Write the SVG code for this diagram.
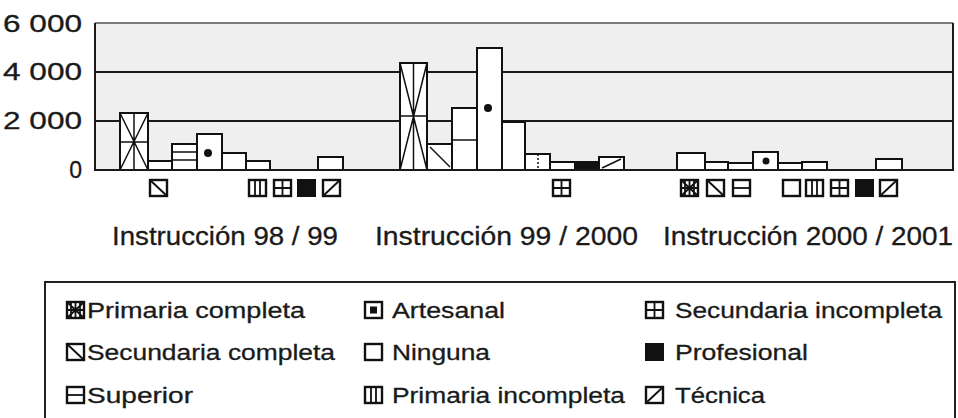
<svg xmlns="http://www.w3.org/2000/svg" width="958" height="418" viewBox="0 0 958 418">
<style>
.bg{fill:#efefef;stroke:none}
.grid{stroke:#1a1a1a;stroke-width:2;fill:none}
.topb{stroke:#7a7a7a;stroke-width:2;fill:none}
.bar{fill:#fff;stroke:#111;stroke-width:2}
.blk{fill:#111;stroke:#111;stroke-width:2}
.pat{stroke:#111;stroke-width:1.5;fill:none}
.ic{fill:#fff;stroke:#111;stroke-width:2.4}
.ip{stroke:#111;stroke-width:1.8;fill:none}
.ylab{font-family:"Liberation Sans",Arial,sans-serif;font-size:23px;fill:#1a1a1a;stroke:#1a1a1a;stroke-width:0.3}
.xlab{font-family:"Liberation Sans",Arial,sans-serif;font-size:26px;fill:#1a1a1a;stroke:#1a1a1a;stroke-width:0.3}
.leg{font-family:"Liberation Sans",Arial,sans-serif;font-size:22px;fill:#1a1a1a;stroke:#1a1a1a;stroke-width:0.3}
</style>
<defs>
<g id="ic-pc"><rect class="ic" x="0" y="0" width="17" height="16"/><path class="ip" d="M0 0L17 16M17 0L0 16M8.5 0V16M0 8H17M4 0V16M13 0V16"/></g>
<g id="ic-sc"><rect class="ic" x="0" y="0" width="17" height="16"/><path class="ip" d="M0 0L17 16"/></g>
<g id="ic-sup"><rect class="ic" x="0" y="0" width="17" height="16"/><path class="ip" d="M0 8H17"/></g>
<g id="ic-art"><rect class="ic" x="0" y="0" width="17" height="16"/><rect x="5" y="4.5" width="7" height="7" fill="#111"/></g>
<g id="ic-nin"><rect class="ic" x="0" y="0" width="17" height="16"/></g>
<g id="ic-pi"><rect class="ic" x="0" y="0" width="17" height="16"/><path class="ip" d="M6 0V16M11 0V16"/></g>
<g id="ic-si"><rect class="ic" x="0" y="0" width="17" height="16"/><path class="ip" d="M8.5 0V16M0 8H17"/></g>
<g id="ic-prof"><rect class="blk" x="0" y="0" width="17" height="16"/></g>
<g id="ic-tec"><rect class="ic" x="0" y="0" width="17" height="16"/><path class="ip" d="M0 16L17 0"/></g>
</defs>
<rect width="958" height="418" fill="#fff"/>

<g id="plot">
<rect class="bg" x="95" y="23" width="858" height="147"/>
<line class="topb" x1="95" y1="23" x2="953" y2="23"/>
<line class="grid" x1="95" y1="72" x2="953" y2="72"/>
<line class="grid" x1="95" y1="121" x2="953" y2="121"/>
<line class="grid" x1="95" y1="23" x2="95" y2="171"/>
<line class="grid" x1="953" y1="23" x2="953" y2="171"/>
</g>

<g id="y-axis">
<text class="ylab" x="82" y="32" text-anchor="end" textLength="79" lengthAdjust="spacingAndGlyphs">6 000</text>
<text class="ylab" x="82" y="80" text-anchor="end" textLength="79" lengthAdjust="spacingAndGlyphs">4 000</text>
<text class="ylab" x="82" y="129" text-anchor="end" textLength="79" lengthAdjust="spacingAndGlyphs">2 000</text>
<text class="ylab" x="82" y="178" text-anchor="end">0</text>
</g>

<g id="group-98-99">
<rect class="bar" x="120" y="113" width="28" height="57"/>
<path class="pat" d="M120 113L148 170M148 113L120 170M134 113V170M120 142H148"/>
<rect class="bar" x="148" y="161" width="24" height="9"/>
<rect class="bar" x="172" y="144" width="25" height="26"/>
<path class="pat" d="M172 152H197M172 160H197"/>
<rect class="bar" x="197" y="134" width="25" height="36"/>
<circle cx="208" cy="153" r="4" fill="#111"/>
<rect class="bar" x="222" y="153" width="24" height="17"/>
<rect class="bar" x="246" y="161" width="24" height="9"/>
<rect class="bar" x="318" y="157" width="25" height="13"/>
<use href="#ic-sc" x="150" y="180"/>
<use href="#ic-pi" x="249" y="180"/>
<use href="#ic-si" x="274" y="180"/>
<use href="#ic-prof" x="298" y="180"/>
<use href="#ic-tec" x="323" y="180"/>
</g>

<g id="group-99-2000">
<rect class="bar" x="400" y="63" width="27" height="107"/>
<path class="pat" d="M400 63L427 170M427 63L400 170M413.5 63V170M400 116H427"/>
<rect class="bar" x="427" y="144" width="25" height="26"/>
<path class="pat" d="M430 147L450 167"/>
<rect class="bar" x="452" y="108" width="25" height="62"/>
<path class="pat" d="M452 140H477"/>
<rect class="bar" x="477" y="48" width="25" height="122"/>
<circle cx="488" cy="108" r="4" fill="#111"/>
<rect class="bar" x="502" y="122" width="23" height="48"/>
<rect class="bar" x="525" y="154" width="25" height="16"/>
<path class="pat" d="M538 154V170" stroke-dasharray="2 2"/>
<rect class="bar" x="550" y="162" width="25" height="8"/>
<rect class="blk" x="575" y="162" width="24" height="8"/>
<rect class="bar" x="599" y="157" width="25" height="13"/>
<path class="pat" d="M602 168L621 159"/>
<use href="#ic-si" x="553" y="180"/>
</g>

<g id="group-2000-2001">
<rect class="bar" x="677" y="153" width="28" height="17"/>
<rect class="bar" x="705" y="162" width="23" height="8"/>
<rect class="bar" x="728" y="163" width="25" height="7"/>
<rect class="bar" x="753" y="152" width="25" height="18"/>
<circle cx="766" cy="161" r="3.5" fill="#111"/>
<rect class="bar" x="778" y="163" width="24" height="7"/>
<rect class="bar" x="802" y="162" width="25" height="8"/>
<rect class="bar" x="876" y="159" width="26" height="11"/>
<use href="#ic-pc" x="681" y="180"/>
<use href="#ic-sc" x="707" y="180"/>
<use href="#ic-sup" x="733" y="180"/>
<use href="#ic-nin" x="783" y="180"/>
<use href="#ic-pi" x="806" y="180"/>
<use href="#ic-si" x="831" y="180"/>
<use href="#ic-prof" x="856" y="180"/>
<use href="#ic-tec" x="880" y="180"/>
</g>

<line id="baseline" class="grid" x1="95" y1="170" x2="953" y2="170"/>

<g id="x-axis">
<text class="xlab" x="112" y="245" textLength="226" lengthAdjust="spacingAndGlyphs">Instrucción 98 / 99</text>
<text class="xlab" x="375" y="245" textLength="263" lengthAdjust="spacingAndGlyphs">Instrucción 99 / 2000</text>
<text class="xlab" x="663" y="245" textLength="290" lengthAdjust="spacingAndGlyphs">Instrucción 2000 / 2001</text>
</g>

<g id="legend">
<rect x="45" y="282" width="910" height="140" fill="#fff" stroke="#222" stroke-width="2"/>
<use href="#ic-pc" x="67" y="302"/>
<text class="leg" x="87" y="318" textLength="218" lengthAdjust="spacingAndGlyphs">Primaria completa</text>
<use href="#ic-sc" x="67" y="344"/>
<text class="leg" x="87" y="360" textLength="248" lengthAdjust="spacingAndGlyphs">Secundaria completa</text>
<use href="#ic-sup" x="67" y="387"/>
<text class="leg" x="87" y="403" textLength="106" lengthAdjust="spacingAndGlyphs">Superior</text>
<use href="#ic-art" x="365" y="302"/>
<text class="leg" x="392" y="318" textLength="113" lengthAdjust="spacingAndGlyphs">Artesanal</text>
<use href="#ic-nin" x="365" y="344"/>
<text class="leg" x="392" y="360" textLength="98" lengthAdjust="spacingAndGlyphs">Ninguna</text>
<use href="#ic-pi" x="365" y="387"/>
<text class="leg" x="392" y="403" textLength="233" lengthAdjust="spacingAndGlyphs">Primaria incompleta</text>
<use href="#ic-si" x="646" y="302"/>
<text class="leg" x="675" y="318" textLength="267" lengthAdjust="spacingAndGlyphs">Secundaria incompleta</text>
<use href="#ic-prof" x="646" y="344"/>
<text class="leg" x="675" y="360" textLength="133" lengthAdjust="spacingAndGlyphs">Profesional</text>
<use href="#ic-tec" x="646" y="387"/>
<text class="leg" x="675" y="403" textLength="90" lengthAdjust="spacingAndGlyphs">Técnica</text>
</g>
</svg>
